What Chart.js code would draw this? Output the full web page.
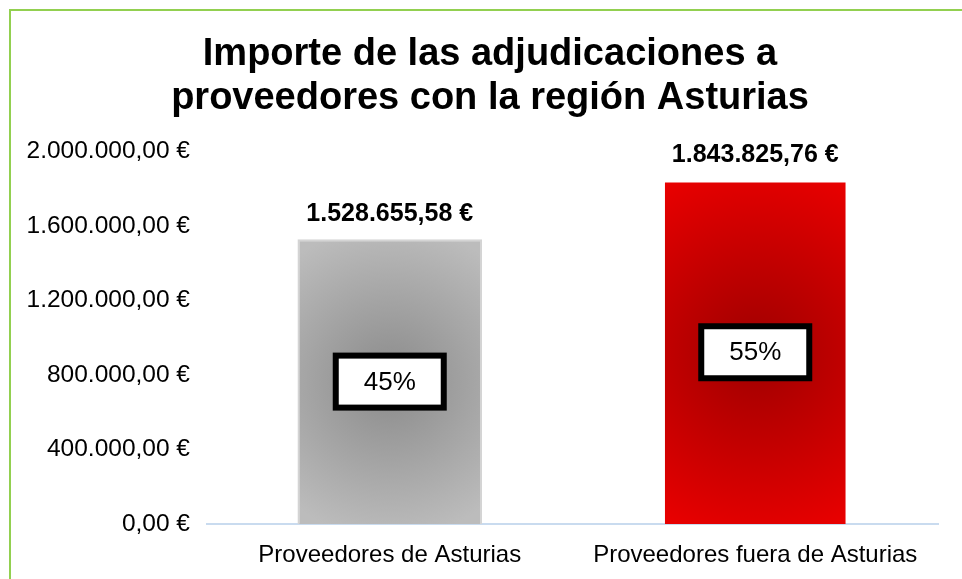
<!DOCTYPE html>
<html>
<head>
<meta charset="utf-8">
<script src="https://cdn.jsdelivr.net/npm/chart.js@4"></script>
<style>
  html, body { margin: 0; padding: 0; background: #fff; overflow: hidden; }
  #wrap {
    position: absolute; left: 9px; top: 9px;
    width: 962px; height: 568px;
    border-left: 2px solid #92d050; border-top: 2px solid #92d050;
  }
</style>
</head>
<body>
<div id="wrap"><canvas id="chart" width="962" height="568"></canvas></div>
<script>
// chart data
const categories = ['Proveedores de Asturias', 'Proveedores fuera de Asturias'];
const importes = [1528655.58, 1843825.76];
const yMax = 2000000;
const yStep = 400000;
const titleLines = ['Importe de las adjudicaciones a', 'proveedores con la región Asturias'];

const FONT = '"Liberation Sans", Arial, sans-serif';

// radial gradients per bar: [centre, edge]
const barShades = [['#8a8a8a', '#bcbcbc'], ['#9e0000', '#e80000']];

function euros(v) {
  const parts = v.toFixed(2).split('.');
  const ent = parts[0].replace(/\B(?=(\d{3})+(?!\d))/g, '.');
  return ent + ',' + parts[1] + ' €';
}

function barFill(ctx) {
  const chart = ctx.chart;
  const shades = barShades[ctx.dataIndex];
  if (!chart.chartArea || !chart.scales.x) return shades[1];
  const x = chart.scales.x.getPixelForValue(ctx.dataIndex);
  const top = chart.scales.y.getPixelForValue(ctx.raw);
  const bottom = chart.scales.y.getPixelForValue(0);
  const mid = (top + bottom) / 2;
  const r = Math.max(bottom - top, 185) * 0.55;
  const g = chart.ctx.createRadialGradient(x, mid, 0, x, mid, r);
  g.addColorStop(0, shades[0]);
  g.addColorStop(1, shades[1]);
  return g;
}

// value labels above bars and percent boxes inside them
const barLabels = {
  id: 'barLabels',
  afterDatasetsDraw(chart) {
    const c = chart.ctx;
    const meta = chart.getDatasetMeta(0);
    const total = importes.reduce((a, b) => a + b, 0);
    c.save();
    meta.data.forEach((bar, i) => {
      c.fillStyle = '#000';
      c.textAlign = 'center';
      c.textBaseline = 'middle';
      c.font = 'bold 25px ' + FONT;
      c.fillText(euros(importes[i]), bar.x, bar.y - 25);

      const pct = Math.round(importes[i] / total * 100) + '%';
      const cy = (bar.y + bar.base) / 2;
      const w = 108, h = 52;
      c.fillStyle = '#fff';
      c.fillRect(bar.x - w / 2, cy - h / 2, w, h);
      c.lineWidth = 6;
      c.strokeStyle = '#000';
      c.strokeRect(bar.x - w / 2, cy - h / 2, w, h);
      c.fillStyle = '#000';
      c.font = '26px ' + FONT;
      c.fillText(pct, bar.x, cy + 1);
    });
    c.restore();
  }
};

new Chart(document.getElementById('chart'), {
  type: 'bar',
  data: {
    labels: categories,
    datasets: [{
      data: importes,
      backgroundColor: barFill,
      borderColor: ['#d4d4d4', 'rgba(0,0,0,0)'],
      borderWidth: 2,
      borderSkipped: 'bottom',
      categoryPercentage: 1,
      barPercentage: 0.505,
    }]
  },
  options: {
    responsive: false,
    animation: false,
    layout: { padding: { left: 0, right: 4, top: 0, bottom: 0 } },
    plugins: {
      legend: { display: false },
      tooltip: { enabled: false },
      title: {
        display: true,
        text: titleLines,
        color: '#000',
        font: { family: FONT, size: 38, weight: 'bold', lineHeight: 1.15 },
        padding: { top: 22, bottom: 31 },
      },
    },
    scales: {
      x: {
        grid: { display: false },
        border: { color: '#c9dbef', width: 2 },
        ticks: { color: '#000', font: { family: FONT, size: 24 }, padding: 9 },
        afterFit: s => { s.height = 55; },
      },
      y: {
        min: 0, max: yMax,
        grid: { display: false },
        border: { display: false },
        ticks: {
          stepSize: yStep,
          color: '#000',
          padding: 9,
          font: { family: FONT, size: 24.5 },
          callback: v => euros(v),
        },
        afterFit: s => { s.width = 196; },
      },
      // empty right axis only to keep room on the right of the plot
      y1: {
        position: 'right',
        grid: { display: false },
        border: { display: false },
        ticks: { display: false },
        afterFit: s => { s.width = 31; },
      },
    },
  },
  plugins: [barLabels],
});
</script>
</body>
</html>
